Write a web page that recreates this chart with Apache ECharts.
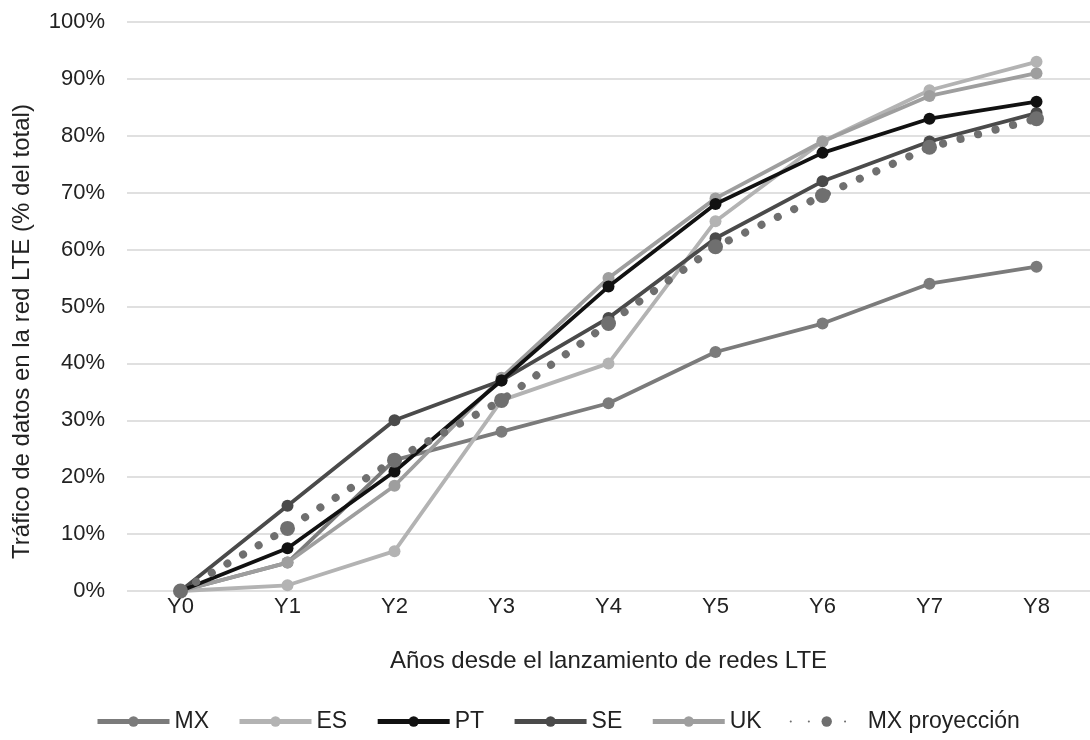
<!DOCTYPE html>
<html><head><meta charset="utf-8">
<script src="https://cdn.jsdelivr.net/npm/echarts@6/dist/echarts.min.js"></script>
<style>html,body{margin:0;padding:0;background:#fff}#c{width:1090px;height:740px}</style>
</head><body><div id="c"></div>
<script>
const categories = ['Y0','Y1','Y2','Y3','Y4','Y5','Y6','Y7','Y8'];
const yTicks = [0,10,20,30,40,50,60,70,80,90,100];
const MX  = [0, 5, 23, 28, 33, 42, 47, 54, 57];
const ES  = [0, 1, 7, 33.5, 40, 65, 79, 88, 93];
const PT  = [0, 7.5, 21, 37, 53.5, 68, 77, 83, 86];
const SE  = [0, 15, 30, 37, 48, 62, 72, 79, 84];
const UK  = [0, 5, 18.5, 37.5, 55, 69, 79, 87, 91];
const MXp = [0, 11, 23, 33.5, 47, 60.5, 69.5, 78, 83];

function line(name, data, color, z) {
  return {
    name, type: 'line', data, z,
    symbol: 'circle', symbolSize: 12,
    itemStyle: { color },
    lineStyle: { color, width: 3.8 },
    emphasis: { disabled: true }
  };
}
const legendNames = ['MX','ES','PT','SE','UK'];
const chart = echarts.init(document.getElementById('c'));
chart.setOption({
  animation: false,
  textStyle: { fontFamily: 'Liberation Sans, Arial, sans-serif' },
  grid: { left: 127, top: 22, width: 975, bottom: 149 },
  legend: {
    top: 705, left: 90, itemWidth: 72, itemHeight: 13, itemGap: 28,
    textStyle: { fontSize: 23, color: '#222' },
    data: legendNames.map(n => ({ name: n, lineStyle: { width: 5 } })).concat([{ name: 'MX proyección' }])
  },
  xAxis: {
    type: 'category', data: categories, boundaryGap: true,
    name: 'Años desde el lanzamiento de redes LTE', nameLocation: 'middle', nameGap: 58,
    nameTextStyle: { fontSize: 24, color: '#222' },
    axisLine: { show: false }, axisTick: { show: false },
    axisLabel: { fontSize: 22, color: '#222', margin: 5 }
  },
  yAxis: {
    type: 'value', min: 0, max: 100, interval: 10,
    name: 'Tráfico de datos en la red LTE (% del total)', nameLocation: 'middle', nameGap: 93,
    nameTextStyle: { fontSize: 24, color: '#222', padding: [0, 50, 0, 0] },
    axisLine: { show: false }, axisTick: { show: false },
    axisLabel: { fontSize: 22, color: '#222', margin: 22,
      formatter: v => yTicks.includes(v) ? v + '%' : '' },
    splitLine: { lineStyle: { color: '#d6d6d6', width: 1.5 } }
  },
  series: [
    line('MX', MX, '#7b7b7b', 2),
    line('ES', ES, '#b3b3b3', 3),
    line('PT', PT, '#111111', 5),
    line('SE', SE, '#4a4a4a', 4),
    line('UK', UK, '#9e9e9e', 3),
    {
      name: 'MX proyección', type: 'line', data: MXp, z: 6,
      symbol: 'circle', symbolSize: 15,
      itemStyle: { color: '#6f6f6f' },
      lineStyle: { color: '#6f6f6f', width: 8, type: [0.1, 18], cap: 'round' },
      emphasis: { disabled: true }
    }
  ]
});
</script></body></html>
